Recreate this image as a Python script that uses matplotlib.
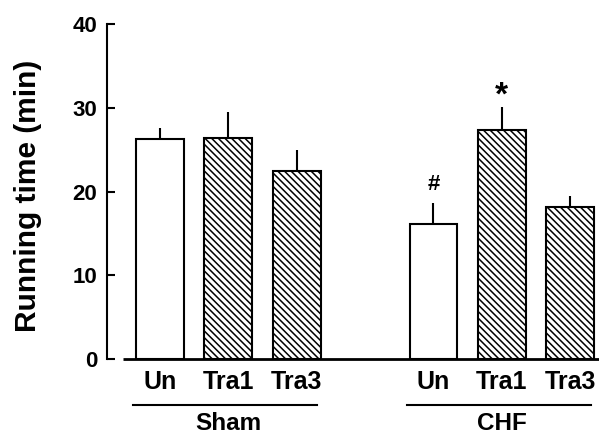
import matplotlib
matplotlib.use("Agg")
import matplotlib.pyplot as plt
import matplotlib.transforms as mtransforms
import numpy as np

plt.rcParams['font.family'] = ['Liberation Sans', 'DejaVu Sans']
plt.rcParams['font.weight'] = 'bold'
plt.rcParams['hatch.linewidth'] = 1.1
plt.rcParams['hatch.color'] = 'black'

# data
groups = ["Sham", "CHF"]
treatments = ["Un", "Tra1", "Tra3"]
sham_mean = [26.3, 26.4, 22.4]
sham_err = [1.3, 3.1, 2.5]
chf_mean = [16.1, 27.3, 18.1]
chf_err = [2.5, 2.8, 1.4]
chf_marks = ["#", "*", ""]

positions = [np.array([0, 1, 2]), np.array([4, 5, 6])]
means = [sham_mean, chf_mean]
errs = [sham_err, chf_err]
hatches = ["", "\\\\\\\\\\", "\\\\\\\\\\"]

fig = plt.figure(figsize=(5.99, 4.34), dpi=100)
ax = fig.add_axes([0.1786, 0.1728, 0.8214, 0.7719])

width = 0.70
for pos, m, e in zip(positions, means, errs):
    for x, val, er, h in zip(pos, m, e, hatches):
        ax.bar(x, val, width=width, color="white", edgecolor="black",
               linewidth=1.5, hatch=h, zorder=2)
        ax.vlines(x, val, val + er, color="black", linewidth=1.5, zorder=1)

# significance marks above CHF bars
mark_size = {"#": 16, "*": 24}
mark_off = {"#": 1.0, "*": -0.5}
for x, val, er, mk in zip(positions[1], chf_mean, chf_err, chf_marks):
    if mk:
        ax.text(x, val + er + mark_off[mk], mk, ha="center", va="bottom",
                fontsize=mark_size[mk], fontweight="bold")

ax.set_xlim(-0.774, 6.42)
ax.set_ylim(0, 40)
ax.set_yticks([0, 10, 20, 30, 40])
ax.tick_params(axis="y", direction="in", length=6, width=1.5, labelsize=16, pad=7)
ax.set_xticks([])
for s in ["top", "right", "bottom"]:
    ax.spines[s].set_visible(False)
ax.spines["left"].set_linewidth(1.5)

# baseline, detached from the y axis
ax.hlines(0, -0.54, 6.42, color="black", linewidth=2, clip_on=False, zorder=3)

# treatment labels, group lines and group names below the axis
trans = mtransforms.blended_transform_factory(ax.transData, ax.transAxes)
for pos, g in zip(positions, groups):
    for x, t in zip(pos, treatments):
        ax.text(x, -0.07, t, transform=trans, ha="center", va="center",
                fontsize=18, fontweight="bold")
    ax.plot([pos[0] - 0.39, pos[-1] + 0.3], [-0.137, -0.137], transform=trans,
            color="black", linewidth=1.5, clip_on=False)
    ax.text(pos[1], -0.192, g, transform=trans, ha="center", va="center",
            fontsize=17.5, fontweight="bold")

fig.text(28 / 599, 1 - 196 / 434, "Running time (min)", rotation=90,
         ha="center", va="center", fontsize=21.5, fontweight="bold")

fig.savefig("out.png", dpi=100)
